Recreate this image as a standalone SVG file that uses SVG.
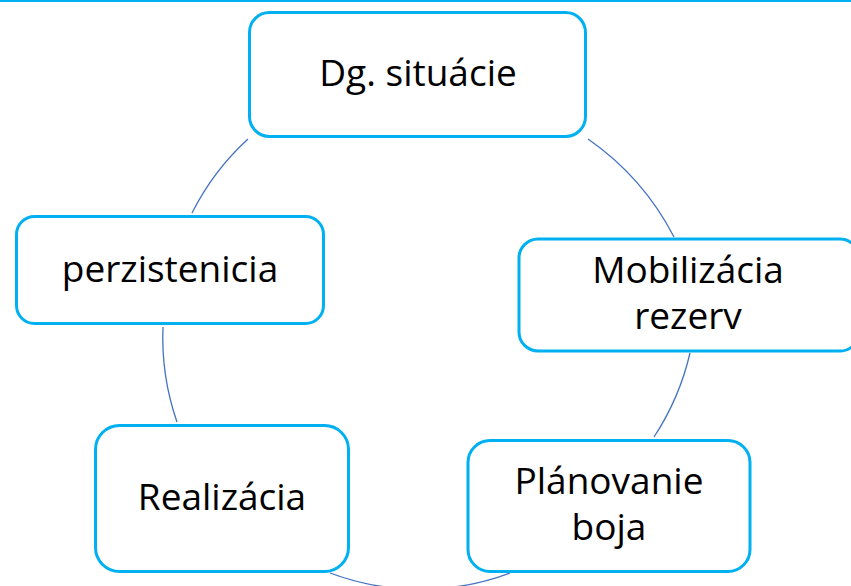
<svg xmlns="http://www.w3.org/2000/svg" width="851" height="586" viewBox="0 0 851 586">
<style>
.node{fill:#FFFFFF;stroke:#00B0F0;stroke-width:3}
.lbl{font-family:"Open Sans","Liberation Sans",sans-serif;font-size:37px;fill:#000000;text-anchor:middle}
.arc{fill:none;stroke:#4472C4;stroke-width:1.3}
</style>
<rect x="0" y="0" width="851" height="586" fill="#FFFFFF"/>
<line x1="0" y1="1" x2="851" y2="1" stroke="#00B0F0" stroke-width="2"/>
<g id="connectors">
<path class="arc" d="M248,139 A257,257 0 0 0 192,213"/>
<path class="arc" d="M163,327 A257,257 0 0 0 177,422"/>
<path class="arc" d="M330,573 A257,257 0 0 0 510,573"/>
<path class="arc" d="M588,139 A270,270 0 0 1 674,237"/>
<path class="arc" d="M690,353 A260,260 0 0 1 654,437"/>
</g>
<g id="node-dg">
<rect class="node" x="249.5" y="12.5" width="336" height="124" rx="20"/>
<text class="lbl" x="418" y="86">Dg. situácie</text>
</g>
<g id="node-mobilizacia">
<rect class="node" x="519" y="239" width="340" height="112" rx="19"/>
<text class="lbl" x="688" y="283">Mobilizácia<tspan x="688" dy="46">rezerv</tspan></text>
</g>
<g id="node-planovanie">
<rect class="node" x="468" y="440.5" width="282" height="131" rx="22"/>
<text class="lbl" x="609" y="494">Plánovanie<tspan x="609" dy="46">boja</tspan></text>
</g>
<g id="node-realizacia">
<rect class="node" x="95.5" y="425.5" width="253" height="146" rx="24"/>
<text class="lbl" x="222" y="510">Realizácia</text>
</g>
<g id="node-perzistenicia">
<rect class="node" x="16.5" y="216.5" width="307" height="107" rx="18"/>
<text class="lbl" x="170" y="282">perzistenicia</text>
</g>
</svg>
